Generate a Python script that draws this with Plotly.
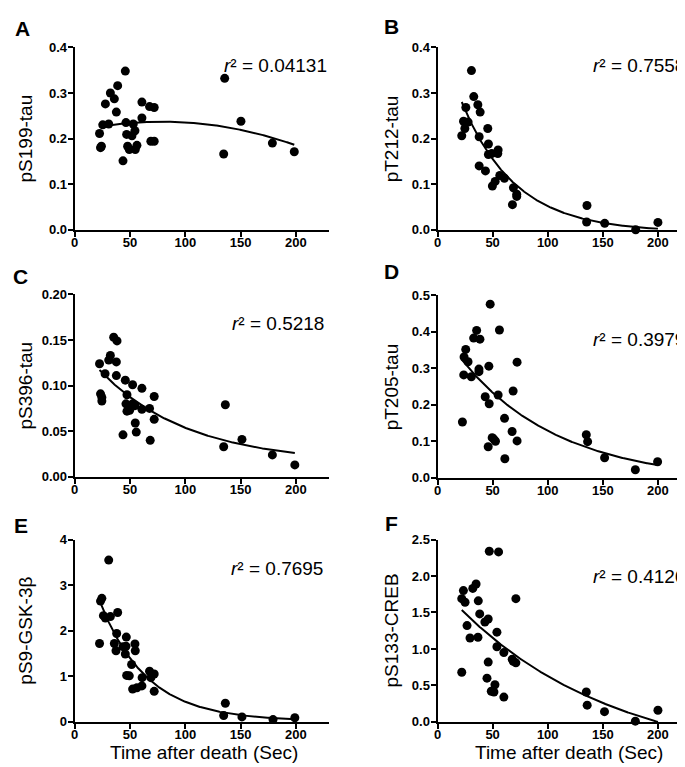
import numpy as np
import plotly.graph_objects as go

# ---------------- data ----------------
a_time = [22.5, 23.4, 24.2, 25.4, 27.8, 30.8, 32.3, 35.9, 37.7, 38.9, 43.7, 45.8, 46.4, 47.0, 47.9, 49.4,
          51.8, 53.0, 54.5, 54.8, 56.3, 60.8, 60.8, 67.7, 68.9, 71.9, 71.9, 135.6, 134.7, 150.3, 178.7, 198.5]
a_val = [0.211, 0.180, 0.183, 0.230, 0.276, 0.232, 0.300, 0.287, 0.258, 0.316, 0.151, 0.348, 0.235, 0.209, 0.183, 0.176,
         0.206, 0.232, 0.217, 0.176, 0.185, 0.280, 0.245, 0.270, 0.194, 0.268, 0.194, 0.332, 0.166, 0.238, 0.190, 0.171]

b_time = [22.0, 23.6, 24.8, 25.7, 27.8, 30.8, 32.9, 36.6, 38.7, 37.8, 37.8, 43.5, 45.6, 46.2, 46.2, 49.2, 49.8,
          52.3, 54.7, 55.0, 56.5, 60.7, 68.0, 68.9, 71.9, 71.9, 135.6, 135.3, 151.7, 179.8, 200.0]
b_val = [0.206, 0.238, 0.222, 0.268, 0.236, 0.349, 0.292, 0.274, 0.258, 0.204, 0.140, 0.129, 0.222, 0.188, 0.165,
         0.167, 0.096, 0.106, 0.167, 0.175, 0.119, 0.113, 0.055, 0.092, 0.078, 0.073, 0.053, 0.017, 0.014, 0.0, 0.016]

c_time = [22.5, 23.4, 24.6, 24.6, 27.5, 30.8, 32.3, 35.3, 38.3, 37.7, 37.7, 43.7, 45.8, 46.4, 47.3, 47.3, 49.7,
          52.4, 52.4, 54.5, 54.8, 55.7, 60.8, 60.8, 67.7, 68.3, 71.9, 71.9, 136.2, 134.7, 151.2, 178.7, 199.0]
c_val = [0.124, 0.091, 0.087, 0.083, 0.113, 0.128, 0.133, 0.153, 0.149, 0.126, 0.111, 0.046, 0.106, 0.080, 0.090,
         0.072, 0.073, 0.101, 0.080, 0.078, 0.059, 0.049, 0.097, 0.074, 0.075, 0.040, 0.088, 0.063, 0.079, 0.033,
         0.041, 0.024, 0.013]

d_time = [22.6, 23.8, 24.1, 25.6, 27.7, 30.7, 32.8, 35.5, 38.5, 37.6, 37.6, 43.3, 46.0, 46.6, 46.9, 47.8, 49.6,
          51.1, 52.6, 55.0, 56.2, 60.8, 61.1, 67.7, 68.6, 72.2, 72.2, 135.0, 136.2, 151.6, 179.5, 199.7]
d_val = [0.153, 0.282, 0.331, 0.352, 0.318, 0.277, 0.383, 0.404, 0.380, 0.298, 0.291, 0.222, 0.085, 0.306, 0.203,
         0.476, 0.110, 0.106, 0.100, 0.227, 0.405, 0.163, 0.052, 0.127, 0.238, 0.101, 0.317, 0.118, 0.099, 0.055,
         0.022, 0.044]

e_time = [22.5, 23.4, 24.6, 26.0, 27.8, 30.8, 32.3, 35.9, 37.4, 38.0, 38.9, 43.7, 45.8, 46.4, 46.7, 47.0, 49.4,
          51.5, 52.4, 54.5, 54.8, 56.3, 60.8, 61.0, 67.7, 68.9, 71.9, 71.9, 136.2, 134.7, 151.2, 179.3, 199.0]
e_val = [1.72, 2.65, 2.71, 2.33, 2.28, 3.55, 2.31, 1.72, 1.56, 1.94, 2.40, 1.65, 1.49, 1.66, 1.86, 1.02, 1.01,
         1.26, 0.72, 1.71, 1.56, 0.75, 0.79, 0.97, 1.11, 0.97, 1.05, 0.67, 0.41, 0.14, 0.11, 0.05, 0.09]

f_time = [22.0, 22.0, 23.5, 25.0, 26.8, 29.5, 32.0, 35.0, 37.0, 36.7, 38.3, 43.0, 46.0, 44.9, 46.0, 47.0, 48.8,
          51.2, 52.1, 53.9, 53.9, 55.4, 60.2, 60.2, 67.8, 68.7, 71.1, 71.1, 135.0, 135.8, 151.5, 179.5, 200.0]
f_val = [0.68, 1.69, 1.80, 1.64, 1.32, 1.15, 1.83, 1.89, 1.66, 1.16, 1.48, 1.37, 1.41, 0.60, 0.82, 2.34, 0.42,
         0.41, 0.51, 1.23, 1.03, 2.33, 0.95, 0.34, 0.86, 0.83, 0.81, 1.69, 0.41, 0.23, 0.14, 0.01, 0.16]

panel_letters = ["A", "B", "C", "D", "E", "F"]
y_titles = ["pS199-tau", "pT212-tau", "pS396-tau", "pT205-tau", "pS9-GSK-3β", "pS133-CREB"]
r2_labels = ["0.04131", "0.7558", "0.5218", "0.3979", "0.7695", "0.4126"]
fit_models = ["quadratic", "decay", "decay", "decay", "decay", "decay"]
x_title = "Time after death (Sec)"

x_ticks = [0, 50, 100, 150, 200]
x_ticklabels = ["0", "50", "100", "150", "200"]
y_ticks_ab = [0.0, 0.1, 0.2, 0.3, 0.4]
y_ticklabels_ab = ["0.0", "0.1", "0.2", "0.3", "0.4"]
y_ticks_c = [0.0, 0.05, 0.10, 0.15, 0.20]
y_ticklabels_c = ["0.00", "0.05", "0.10", "0.15", "0.20"]
y_ticks_d = [0.0, 0.1, 0.2, 0.3, 0.4, 0.5]
y_ticklabels_d = ["0.0", "0.1", "0.2", "0.3", "0.4", "0.5"]
y_ticks_e = [0, 1, 2, 3, 4]
y_ticklabels_e = ["0", "1", "2", "3", "4"]
y_ticks_f = [0.0, 0.5, 1.0, 1.5, 2.0, 2.5]
y_ticklabels_f = ["0.0", "0.5", "1.0", "1.5", "2.0", "2.5"]


def fit_curve(t, v, model):
    """Least-squares fit of the data; returns a smooth curve over the data's x span."""
    xs = np.linspace(t.min(), t.max(), 400)
    if model == "quadratic":
        coef = np.polyfit(t, v, 2)
        return xs, np.polyval(coef, xs)
    # one-phase exponential decay with plateau: y = span*exp(-k x) + plateau
    best = None
    for k in np.linspace(0.0005, 0.08, 3000):
        X = np.column_stack([np.exp(-k * t), np.ones_like(t)])
        coef, *_ = np.linalg.lstsq(X, v, rcond=None)
        sse = float(np.sum((X @ coef - v) ** 2))
        if best is None or sse < best[0]:
            best = (sse, k, coef)
    _, k, coef = best
    return xs, coef[0] * np.exp(-k * xs) + coef[1]


# ---------------- layout settings ----------------
FONT = "Liberation Sans, Arial, Helvetica, sans-serif"
W, H = 685, 767

panels = [
    dict(t=a_time, v=a_val, yt=y_ticks_ab, yl=y_ticklabels_ab, xd=[63, 319], yd=[33, 219], r2pos=(0.58, 0.90)),
    dict(t=b_time, v=b_val, yt=y_ticks_ab, yl=y_ticklabels_ab, xd=[428, 683], yd=[33, 219], r2pos=(0.605, 0.90)),
    dict(t=c_time, v=c_val, yt=y_ticks_c, yl=y_ticklabels_c, xd=[63, 319], yd=[285, 471], r2pos=(0.61, 0.84)),
    dict(t=d_time, v=d_val, yt=y_ticks_d, yl=y_ticklabels_d, xd=[428, 683], yd=[286, 472], r2pos=(0.605, 0.76)),
    dict(t=e_time, v=e_val, yt=y_ticks_e, yl=y_ticklabels_e, xd=[63, 319], yd=[535, 721], r2pos=(0.605, 0.84)),
    dict(t=f_time, v=f_val, yt=y_ticks_f, yl=y_ticklabels_f, xd=[428, 683], yd=[535, 721], r2pos=(0.605, 0.80)),
]
letter_pos = [(11, 14), (382, 12), (9, 267), (382, 262), (9, 521), (382, 519)]
ytitle_x = [14, 382, 14, 382, 14, 382]
xtitle_pos = [(193, 752), (560, 752)]

fig = go.Figure()
annotations = []

for i, p in enumerate(panels):
    k = i + 1
    xa = "x" if k == 1 else f"x{k}"
    ya = "y" if k == 1 else f"y{k}"
    t = np.array(p["t"], dtype=float)
    v = np.array(p["v"], dtype=float)

    xs, ys = fit_curve(t, v, fit_models[i])

    fig.add_trace(go.Scatter(x=xs, y=ys, mode="lines", line=dict(color="black", width=2),
                             xaxis=xa, yaxis=ya, showlegend=False, hoverinfo="skip"))
    fig.add_trace(go.Scatter(x=t, y=v, mode="markers", marker=dict(color="black", size=9),
                             xaxis=xa, yaxis=ya, showlegend=False, cliponaxis=False))

    axis_common = dict(showline=True, linecolor="black", linewidth=2, ticks="outside", ticklen=5,
                       tickwidth=2, tickcolor="black", showgrid=False, zeroline=False,
                       tickfont=dict(family=FONT, size=13, color="black", weight="bold"))
    xdom = [p["xd"][0] / W, p["xd"][1] / W]
    ydom = [1 - p["yd"][1] / H, 1 - p["yd"][0] / H]
    fig.update_layout(**{
        ("xaxis" if k == 1 else f"xaxis{k}"): dict(
            domain=xdom, range=[0, 230], tickvals=x_ticks, ticktext=x_ticklabels,
            anchor=ya, ticklabelstandoff=-5, **axis_common),
        ("yaxis" if k == 1 else f"yaxis{k}"): dict(
            domain=ydom, range=[0, max(p["yt"])], tickvals=p["yt"], ticktext=p["yl"],
            anchor=xa, ticklabelstandoff=-2, **axis_common),
    })

    # r^2 label
    annotations.append(dict(
        text=f"<i>r</i>² = {r2_labels[i]}",
        xref=f"{xa} domain", yref=f"{ya} domain", x=p["r2pos"][0], y=p["r2pos"][1],
        xanchor="left", yanchor="middle", showarrow=False,
        font=dict(family=FONT, size=19, color="black")))
    # panel letter
    lx, ly = letter_pos[i]
    annotations.append(dict(
        text=f"<b>{panel_letters[i]}</b>", xref="paper", yref="paper", x=lx / W, y=1 - ly / H,
        xanchor="center", yanchor="middle", showarrow=False,
        font=dict(family=FONT, size=21, color="black")))
    # y axis title
    annotations.append(dict(
        text=y_titles[i], xref="paper", yref="paper", x=ytitle_x[i] / W,
        y=(ydom[0] + ydom[1]) / 2, textangle=-90, xanchor="center", yanchor="middle",
        showarrow=False, font=dict(family=FONT, size=19, color="black")))

for (tx, ty) in xtitle_pos:
    annotations.append(dict(
        text=x_title, xref="paper", yref="paper", x=tx / W, y=1 - ty / H,
        xanchor="center", yanchor="middle", showarrow=False,
        font=dict(family=FONT, size=19, color="black")))

fig.update_layout(
    width=W, height=H, margin=dict(l=0, r=0, t=0, b=0),
    paper_bgcolor="white", plot_bgcolor="white",
    annotations=annotations, showlegend=False,
)

fig.write_html("out.html")
